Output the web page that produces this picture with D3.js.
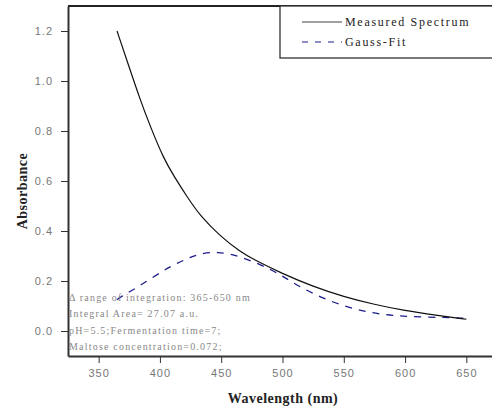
<!DOCTYPE html>
<html lang="en">
<head>
<meta charset="UTF-8"/>
<title>spectrum</title>
<script src="https://d3js.org/d3.v7.min.js"></script>
<style>
    body { margin: 0; background: #fff; }
    .tick text { font: 11px "Liberation Sans", Arial, sans-serif; fill: #777; letter-spacing: 1px; }
    .axis path, .axis line { stroke: #333; }
    .title { font-family: "Liberation Serif", "Times New Roman", serif; font-weight: bold; font-size: 14px; fill: #222; letter-spacing: 0.5px; }
    .legend text { font: 12px "Liberation Serif", serif; fill: #222; letter-spacing: 1.7px; }
    .note { font: 10px "Liberation Serif", serif; fill: #888; letter-spacing: 1.2px; }
</style>
</head>
<body>
<script>
    // measured spectrum
    let measWl = [365, 373, 384, 392, 403, 411, 423, 433, 449, 466, 475, 500, 525, 550, 575, 600, 625, 650];
    let measAbs = [1.20, 1.083, 0.923, 0.82, 0.69, 0.623, 0.53, 0.46, 0.38, 0.315, 0.29, 0.229, 0.178, 0.137, 0.106, 0.081, 0.063, 0.047];
    // gauss fit
    let fitWl = [365, 368, 380, 395, 408, 421, 433, 447, 463, 493, 513, 539, 566, 591, 618, 645, 650];
    let fitAbs = [0.125, 0.137, 0.17, 0.217, 0.257, 0.287, 0.311, 0.317, 0.304, 0.244, 0.177, 0.117, 0.077, 0.06, 0.055, 0.053, 0.05];

    let xTicks = [350, 400, 450, 500, 550, 600, 650];
    let yTicks = [0.0, 0.2, 0.4, 0.6, 0.8, 1.0, 1.2];
    let legendLabels = ["Measured Spectrum", "Gauss-Fit"];
    let notes = ["Δ range of integration: 365-650 nm", "Integral Area= 27.07 a.u.",
        "pH=5.5;Fermentation time=7;", "Maltose concentration=0.072;"];

    let width = 492, height = 413;
    let padL = 68, padT = 6, padR = 497, padB = 356;

    let svg = d3.select("body").append("svg")
        .attr("width", width)
        .attr("height", height);

    let x = d3.scaleLinear().domain([325, 675]).range([padL, padR]);
    let y = d3.scaleLinear().domain([-0.1, 1.3]).range([padB, padT]);

    // top border
    svg.append("line")
        .attr("x1", padL).attr("x2", padR)
        .attr("y1", padT).attr("y2", padT)
        .attr("stroke", "#222").attr("stroke-width", 2);

    // minor ticks first, then major ticks with labels
    let gx = svg.append("g").attr("class", "axis")
        .attr("transform", "translate(0," + padB + ")");
    gx.call(d3.axisBottom(x).tickValues(d3.range(325, 676, 25)).tickSize(4).tickFormat(""));
    gx.call(d3.axisBottom(x).tickValues(xTicks).tickSize(7).tickSizeOuter(0).tickPadding(6)
        .tickFormat(d3.format("d")));
    gx.select(".domain").attr("stroke-width", 2);

    let gy = svg.append("g").attr("class", "axis")
        .attr("transform", "translate(" + padL + ",0)");
    gy.call(d3.axisLeft(y).tickValues(d3.range(-0.1, 1.31, 0.1)).tickSize(4).tickFormat(""));
    gy.call(d3.axisLeft(y).tickValues(yTicks).tickSize(7).tickSizeOuter(0).tickPadding(8)
        .tickFormat(d3.format(".1f")));
    gy.select(".domain").attr("stroke-width", 2);

    let line = d3.line()
        .x(d => x(d[0]))
        .y(d => y(d[1]))
        .curve(d3.curveBasis);

    svg.append("path")
        .attr("d", line(d3.zip(fitWl, fitAbs)))
        .attr("fill", "none")
        .attr("stroke", "#1c1c8c")
        .attr("stroke-width", 1.3)
        .attr("stroke-dasharray", "7,7");

    svg.append("path")
        .attr("d", line(d3.zip(measWl, measAbs)))
        .attr("fill", "none")
        .attr("stroke", "#111")
        .attr("stroke-width", 1.2);

    // legend
    let lg = svg.append("g").attr("class", "legend");
    lg.append("rect")
        .attr("x", 280).attr("y", padT)
        .attr("width", 230).attr("height", 52)
        .attr("fill", "#fff").attr("stroke", "#333").attr("stroke-width", 1.3);
    legendLabels.forEach(function(t, i) {
        let ly = 22 + i * 20;
        lg.append("line")
            .attr("x1", 302).attr("x2", 342)
            .attr("y1", ly).attr("y2", ly)
            .attr("stroke", i === 0 ? "#444" : "#1c1c8c")
            .attr("stroke-width", 1.2)
            .attr("stroke-dasharray", i === 0 ? null : "6,7");
        lg.append("text")
            .attr("x", 345).attr("y", ly + 4)
            .text(t);
    });

    // notes
    notes.forEach(function(t, i) {
        svg.append("text")
            .attr("class", "note")
            .attr("x", 69).attr("y", 301 + i * 16.3)
            .text(t);
    });

    // axis titles
    svg.append("text")
        .attr("class", "title")
        .attr("text-anchor", "middle")
        .attr("transform", "translate(27,191) rotate(-90)")
        .text("Absorbance");

    svg.append("text")
        .attr("class", "title")
        .attr("text-anchor", "middle")
        .attr("x", 283).attr("y", 403)
        .text("Wavelength (nm)");
</script>
</body>
</html>
